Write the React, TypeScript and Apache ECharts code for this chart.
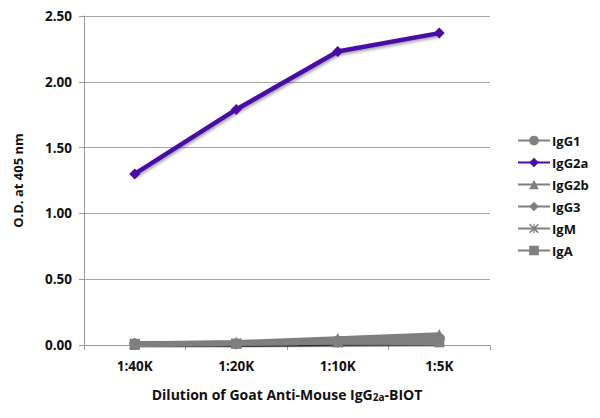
import * as echarts from 'echarts';
import { useEffect, useRef } from 'react';

const dilutions = ['1:40K', '1:20K', '1:10K', '1:5K'];
const yTicks = ['0.00', '0.50', '1.00', '1.50', '2.00', '2.50'];

const igg1 = [0.01, 0.01, 0.03, 0.05];
const igg2a = [1.3, 1.79, 2.23, 2.37];
const igg2b = [0.01, 0.02, 0.05, 0.08];
const igg3 = [0.01, 0.01, 0.03, 0.05];
const igm = [0.01, 0.01, 0.02, 0.03];
const iga = [0.0, 0.01, 0.02, 0.02];

const GRAY = '#7f7f7f';
const PURPLE = '#4a0ca6';
const FONT = '"Open Sans", "Noto Sans", sans-serif';

const starSymbol =
  'path://M1,0 L5,3.6 L9,0 L10,1 L6.4,5 L10,9 L9,10 L5,6.4 L1,10 L0,9 L3.6,5 L0,1 Z M4.4,0 L5.6,0 L5.6,10 L4.4,10 Z';

function App() {
  const chartRef = useRef(null);

  useEffect(() => {
    const myChart = echarts.init(chartRef.current, null, { renderer: 'svg' });

    const makeSeries = (name: string, data: number[], color: string, symbol: string, size: number) => ({
      name,
      type: 'line',
      data,
      symbol,
      symbolSize: size,
      itemStyle: { color },
      lineStyle: {
        color,
        width: 4.5,
        shadowColor: 'rgba(0,0,0,0.35)',
        shadowBlur: 3,
        shadowOffsetX: 1,
        shadowOffsetY: 2,
      },
    });

    const option = {
      animation: false,
      grid: { left: 84, right: 110, top: 16, bottom: 73 },
      legend: {
        orient: 'vertical',
        left: 512,
        top: 129,
        itemGap: 9,
        itemWidth: 32,
        itemHeight: 12,
        textStyle: { fontFamily: FONT, fontWeight: 'bold', fontSize: 13, color: '#111', padding: [0, 0, 0, -3] },
        data: ['IgG1', 'IgG2a', 'IgG2b', 'IgG3', 'IgM', 'IgA'],
      },
      xAxis: {
        type: 'category',
        data: dilutions,
        boundaryGap: true,
        name: '{a|Dilution of Goat Anti-Mouse IgG}{s|2a}{a|-BIOT}',
        nameLocation: 'middle',
        nameGap: 42,
        nameTextStyle: {
          rich: {
            a: { fontFamily: FONT, fontWeight: 'bold', fontSize: 14, color: '#111' },
            s: { fontFamily: FONT, fontWeight: 'bold', fontSize: 10, color: '#111', verticalAlign: 'bottom', padding: [5, 0, 0, 0] },
          },
        },
        axisLine: { lineStyle: { color: '#9a9a9a', width: 1 } },
        axisTick: { show: true, alignWithLabel: false, length: 5, lineStyle: { color: '#9a9a9a' } },
        axisLabel: { fontFamily: FONT, fontWeight: 'bold', fontSize: 13.5, color: '#111', margin: 14 },
      },
      yAxis: {
        type: 'value',
        min: 0,
        max: 2.5,
        interval: 0.5,
        name: 'O.D. at 405 nm',
        nameLocation: 'middle',
        nameGap: 60,
        nameTextStyle: { fontFamily: FONT, fontWeight: 'bold', fontSize: 13, color: '#111' },
        axisLine: { show: true, lineStyle: { color: '#9a9a9a', width: 1 } },
        axisTick: { show: true, length: 5, lineStyle: { color: '#9a9a9a' } },
        axisLabel: {
          fontFamily: FONT,
          fontWeight: 'bold',
          fontSize: 13.5,
          color: '#111',
          margin: 12,
          formatter: (v: number) => yTicks[Math.round(v / 0.5)] ?? v.toFixed(2),
        },
        splitLine: { lineStyle: { color: '#a6a6a6', width: 1 } },
      },
      series: [
        makeSeries('IgG1', igg1, GRAY, 'circle', 11),
        makeSeries('IgG2b', igg2b, GRAY, 'triangle', 11),
        makeSeries('IgG3', igg3, GRAY, 'diamond', 11),
        makeSeries('IgM', igm, GRAY, starSymbol, 11),
        makeSeries('IgA', iga, GRAY, 'rect', 10),
        makeSeries('IgG2a', igg2a, PURPLE, 'diamond', 11),
      ],
    };

    myChart.setOption(option);

    return () => {
      myChart.dispose();
    };
  }, []);

  return <div ref={chartRef} style={{ width: '600px', height: '418px', margin: '-8px' }}></div>;
}

export default App;
